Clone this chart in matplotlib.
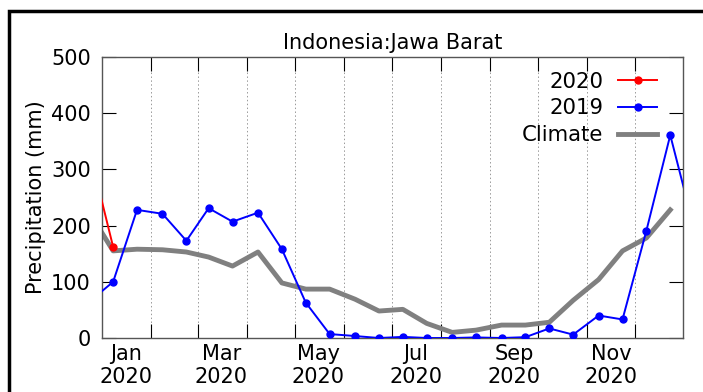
import numpy as np
import matplotlib
matplotlib.use("Agg")
import matplotlib.pyplot as plt
from matplotlib.patches import Rectangle

# semi-monthly dates (8th and 23rd of each month), with one point before and after 2020
days = ["2019-12-23"]
for m in range(1, 13):
    days += ["2020-%02d-08" % m, "2020-%02d-23" % m]
days += ["2021-01-08"]
dates = np.array(days, dtype="datetime64[D]")

# values (mm)
rain_2020 = [346, 162]
rain_2019 = [62, 100, 228, 221, 173, 231, 207, 223, 158, 63, 7, 3.5, 0,
             2, 0, 0, 1, 0, 1.5, 17, 6, 40, 33, 191, 361, 184]
climate = [228, 155, 158, 157, 153, 144, 128, 153, 98, 87, 87, 69, 48,
           51, 26, 10, 14, 23, 23, 28, 67, 104, 155, 178, 228]

month_starts = np.array(["2020-%02d-01" % m for m in range(2, 13)], dtype="datetime64[D]")
label_pos = np.array(["2020-%02d-16" % m for m in (1, 3, 5, 7, 9, 11)], dtype="datetime64[D]")
label_txt = ["Jan\n2020", "Mar\n2020", "May\n2020", "Jul\n2020", "Sep\n2020", "Nov\n2020"]

fig = plt.figure(figsize=(7.03, 3.92), dpi=100)
ax = fig.add_axes([102/703, 1-338/392, 581/703, 281/392])

ax.plot(dates[:len(climate)], climate, color="#808080", lw=3.5, label="Climate", zorder=2)
ax.plot(dates, rain_2019, color="#0000ff", lw=1.4, marker="o", ms=5, label="2019", zorder=3)
ax.plot(dates[:len(rain_2020)], rain_2020, color="#ff0000", lw=1.4, marker="o", ms=5, label="2020", zorder=4)

ax.set_xlim(np.datetime64("2020-01-01"), np.datetime64("2020-12-31"))
ax.set_ylim(0, 500)
ax.set_yticks(range(0, 501, 100))

ax.set_xticks(month_starts)
ax.set_xticklabels([])
ax.set_xticks(label_pos, minor=True)
ax.set_xticklabels(label_txt, minor=True)
ax.tick_params(axis="x", which="minor", length=0, pad=4, labelsize=15)
ax.tick_params(axis="x", which="major", direction="in", length=10, top=True, color="black")
ax.tick_params(axis="y", direction="in", length=10, right=True, labelsize=15, pad=8, color="black")
ax.grid(axis="x", which="major", color="#999999", ls=(0, (1.5, 2.5)), lw=0.7)

for s in ax.spines.values():
    s.set_color("#555555")
    s.set_linewidth(1)

ax.set_title("Indonesia:Jawa Barat", fontsize=15, pad=6)
ax.set_ylabel("Precipitation (mm)", fontsize=15, labelpad=4)

h, l = ax.get_legend_handles_labels()
ax.legend(h[::-1], l[::-1], loc="upper right", bbox_to_anchor=(0.97, 0.978),
          frameon=False, markerfirst=False, fontsize=15.3, handlelength=1.84,
          handletextpad=0.7, labelspacing=0.32, borderaxespad=0, numpoints=1)

fig.patches.append(Rectangle((9/703, -0.1), 1.2, 1 - 11/392 + 0.1, transform=fig.transFigure,
                             fill=False, edgecolor="black", lw=2.5))

fig.savefig("out.png", dpi=100)
